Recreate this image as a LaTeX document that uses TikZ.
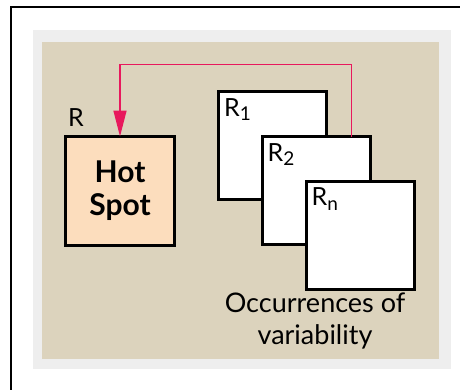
\documentclass[tikz,border=0pt]{standalone}
\usepackage{fontspec}
\setmainfont{Lato}
\usetikzlibrary{arrows.meta,positioning}
\definecolor{tan}{HTML}{DCD3BD}
\definecolor{peach}{HTML}{FCDDBD}
\definecolor{hotred}{HTML}{E8185D}
\definecolor{band}{HTML}{EEEEEE}
\newcommand{\rsub}[1]{R\raisebox{-0.35ex}{\fontsize{19}{20}\selectfont #1}}

\begin{document}
\begin{tikzpicture}[x=1pt, y=1pt,
    box/.style={draw, line width=3pt, minimum width=108pt, minimum height=108pt, fill=white, inner sep=0pt},
    sub/.style={anchor=north west, inner sep=0pt, font=\fontsize{25}{27}\selectfont},
    arr/.style={-{Triangle[length=26pt,width=13pt]}, line width=1.5pt, hotred}
]
\useasboundingbox (0,0) rectangle (460,389);
\fill[white] (0,0) rectangle (460,389);
\draw[line width=2pt] (11,-5) -- (11,382) -- (470,382);
\fill[band] (33,20) rectangle (451,359);
\fill[tan] (42,30) rectangle (439,347);

\node[box, fill=peach, minimum width=109pt, minimum height=109pt, align=center,
      font=\fontsize{30}{33}\selectfont\bfseries] (hotspot) at (120,198) {Hot\\Spot};
\node[anchor=south west, inner sep=0pt, font=\fontsize{25}{27}\selectfont] (rlabel)
      at ([xshift=4pt,yshift=8pt]hotspot.north west) {R};

\node[box] (rone) at (272.5,243.5) {};
\node[box] (rtwo) at (316,198.5) {};
\node[box] (rn) at (360,154) {};
\node[sub] (ronelabel) at ([xshift=7pt,yshift=-8pt]rone.north west) {\rsub{1}};
\node[sub] (rtwolabel) at ([xshift=7pt,yshift=-8pt]rtwo.north west) {\rsub{2}};
\node[sub] (rnlabel) at ([xshift=7pt,yshift=-8pt]rn.north west) {\rsub{n}};

\node[align=center, font=\fontsize{27}{32}\selectfont] (occ) at (315,68) {Occurrences of\\variability};

\draw[arr] ([xshift=-20pt,yshift=-1.5pt]rtwo.north east) -- ++(0,72) -| ([yshift=-1.5pt]hotspot.north);
\end{tikzpicture}
\end{document}
